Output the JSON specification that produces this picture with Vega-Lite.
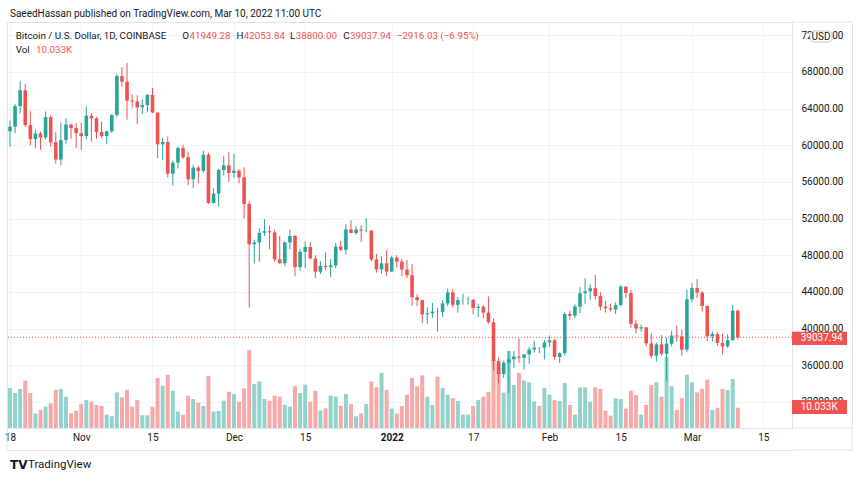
{
"$schema": "https://vega.github.io/schema/vega-lite/v6.json",
"autosize": "none",
"width": 785,
"height": 406,
"padding": {"left": 7, "top": 22, "right": 68, "bottom": 53},
"background": "white",
"config": {
  "font": "Roboto",
  "view": {"stroke": "#e0e3eb"},
  "scale": {"continuousPadding": 0},
  "axis": {"gridColor": "#f0f3fa", "domainColor": "#e0e3eb", "labelColor": "#131722", "labelFontSize": 10, "ticks": false, "labelFont": "Roboto"},
  "text": {"font": "Roboto"}
},
"datasets": {
"btc": [
{"date":"2021-10-18","open":61530,"high":62700,"low":59850,"close":62030,"volume":19800},
{"date":"2021-10-19","open":62030,"high":64500,"low":61330,"close":64280,"volume":17300},
{"date":"2021-10-20","open":64280,"high":67000,"low":63480,"close":66000,"volume":19300},
{"date":"2021-10-21","open":66000,"high":66700,"low":62000,"close":62210,"volume":23400},
{"date":"2021-10-22","open":62210,"high":63730,"low":60000,"close":60690,"volume":17300},
{"date":"2021-10-23","open":60690,"high":61750,"low":59700,"close":61300,"volume":7200},
{"date":"2021-10-24","open":61300,"high":61490,"low":59520,"close":60860,"volume":8900},
{"date":"2021-10-25","open":60860,"high":63700,"low":60650,"close":63080,"volume":10500},
{"date":"2021-10-26","open":63080,"high":63290,"low":59840,"close":60330,"volume":12200},
{"date":"2021-10-27","open":60330,"high":61470,"low":58000,"close":58450,"volume":18800},
{"date":"2021-10-28","open":58450,"high":62480,"low":57820,"close":60590,"volume":19300},
{"date":"2021-10-29","open":60590,"high":62960,"low":60190,"close":62270,"volume":15500},
{"date":"2021-10-30","open":62270,"high":62330,"low":60700,"close":61880,"volume":7200},
{"date":"2021-10-31","open":61880,"high":62420,"low":59700,"close":61320,"volume":8600},
{"date":"2021-11-01","open":61320,"high":62440,"low":59500,"close":61010,"volume":11900},
{"date":"2021-11-02","open":61010,"high":64270,"low":60670,"close":63230,"volume":13800},
{"date":"2021-11-03","open":63230,"high":63530,"low":60400,"close":62940,"volume":13000},
{"date":"2021-11-04","open":62940,"high":63110,"low":60700,"close":61440,"volume":11400},
{"date":"2021-11-05","open":61440,"high":62590,"low":60750,"close":61010,"volume":10900},
{"date":"2021-11-06","open":61010,"high":61590,"low":60120,"close":61530,"volume":6600},
{"date":"2021-11-07","open":61530,"high":63400,"low":61360,"close":63300,"volume":5800},
{"date":"2021-11-08","open":63300,"high":67800,"low":63100,"close":67550,"volume":17600},
{"date":"2021-11-09","open":67550,"high":68530,"low":66380,"close":66940,"volume":15200},
{"date":"2021-11-10","open":66940,"high":69000,"low":62800,"close":64880,"volume":18800},
{"date":"2021-11-11","open":64880,"high":65590,"low":64100,"close":64780,"volume":10500},
{"date":"2021-11-12","open":64780,"high":65460,"low":62300,"close":64140,"volume":13800},
{"date":"2021-11-13","open":64140,"high":64990,"low":63400,"close":64380,"volume":6300},
{"date":"2021-11-14","open":64380,"high":65600,"low":63600,"close":65500,"volume":6300},
{"date":"2021-11-15","open":65500,"high":66280,"low":63500,"close":63580,"volume":10500},
{"date":"2021-11-16","open":63580,"high":63580,"low":58600,"close":60100,"volume":24700},
{"date":"2021-11-17","open":60100,"high":60800,"low":58370,"close":60360,"volume":20900},
{"date":"2021-11-18","open":60360,"high":60960,"low":56500,"close":56900,"volume":26300},
{"date":"2021-11-19","open":56900,"high":58350,"low":55600,"close":58100,"volume":18400},
{"date":"2021-11-20","open":58100,"high":59860,"low":57470,"close":59700,"volume":8100},
{"date":"2021-11-21","open":59700,"high":60050,"low":58500,"close":58700,"volume":6600},
{"date":"2021-11-22","open":58700,"high":59300,"low":55650,"close":56300,"volume":16000},
{"date":"2021-11-23","open":56300,"high":57880,"low":55320,"close":57570,"volume":14300},
{"date":"2021-11-24","open":57570,"high":57800,"low":55850,"close":57200,"volume":12500},
{"date":"2021-11-25","open":57200,"high":59400,"low":57000,"close":58960,"volume":10900},
{"date":"2021-11-26","open":58960,"high":59180,"low":53600,"close":53700,"volume":25700},
{"date":"2021-11-27","open":53700,"high":55300,"low":53650,"close":54720,"volume":8100},
{"date":"2021-11-28","open":54720,"high":57440,"low":53330,"close":57300,"volume":8400},
{"date":"2021-11-29","open":57300,"high":58870,"low":56700,"close":57810,"volume":13500},
{"date":"2021-11-30","open":57810,"high":59250,"low":56000,"close":56980,"volume":17900},
{"date":"2021-12-01","open":56980,"high":59050,"low":56470,"close":57230,"volume":16800},
{"date":"2021-12-02","open":57230,"high":57400,"low":55850,"close":56500,"volume":13000},
{"date":"2021-12-03","open":56500,"high":57600,"low":52000,"close":53600,"volume":19600},
{"date":"2021-12-04","open":53600,"high":53860,"low":42300,"close":49200,"volume":38500},
{"date":"2021-12-05","open":49200,"high":49700,"low":47100,"close":49400,"volume":21700},
{"date":"2021-12-06","open":49400,"high":50950,"low":47300,"close":50450,"volume":23000},
{"date":"2021-12-07","open":50450,"high":51950,"low":50100,"close":50620,"volume":14300},
{"date":"2021-12-08","open":50620,"high":51250,"low":48650,"close":50500,"volume":13500},
{"date":"2021-12-09","open":50500,"high":50800,"low":47300,"close":47550,"volume":16000},
{"date":"2021-12-10","open":47550,"high":50100,"low":47080,"close":47140,"volume":15500},
{"date":"2021-12-11","open":47140,"high":49500,"low":46850,"close":49400,"volume":11500},
{"date":"2021-12-12","open":49400,"high":50800,"low":48650,"close":50100,"volume":10500},
{"date":"2021-12-13","open":50100,"high":50200,"low":45700,"close":46700,"volume":20600},
{"date":"2021-12-14","open":46700,"high":48700,"low":46300,"close":48370,"volume":17300},
{"date":"2021-12-15","open":48370,"high":49500,"low":46600,"close":48900,"volume":21400},
{"date":"2021-12-16","open":48900,"high":49450,"low":47550,"close":47650,"volume":13000},
{"date":"2021-12-17","open":47650,"high":47990,"low":45500,"close":46200,"volume":18400},
{"date":"2021-12-18","open":46200,"high":47350,"low":45960,"close":46850,"volume":8600},
{"date":"2021-12-19","open":46850,"high":48320,"low":46430,"close":46700,"volume":9700},
{"date":"2021-12-20","open":46700,"high":47550,"low":45600,"close":46900,"volume":16000},
{"date":"2021-12-21","open":46900,"high":49350,"low":46600,"close":48950,"volume":15500},
{"date":"2021-12-22","open":48950,"high":49580,"low":48450,"close":48600,"volume":11000},
{"date":"2021-12-23","open":48600,"high":51380,"low":48050,"close":50820,"volume":16800},
{"date":"2021-12-24","open":50820,"high":51820,"low":50440,"close":50430,"volume":11900},
{"date":"2021-12-25","open":50430,"high":51180,"low":50240,"close":50800,"volume":5800},
{"date":"2021-12-26","open":50800,"high":51280,"low":49450,"close":50680,"volume":7200},
{"date":"2021-12-27","open":50680,"high":52060,"low":50500,"close":50700,"volume":11900},
{"date":"2021-12-28","open":50700,"high":50700,"low":47350,"close":47540,"volume":23000},
{"date":"2021-12-29","open":47540,"high":48140,"low":46100,"close":46460,"volume":20100},
{"date":"2021-12-30","open":46460,"high":47900,"low":46000,"close":47120,"volume":27200},
{"date":"2021-12-31","open":47120,"high":48550,"low":45700,"close":46210,"volume":18900},
{"date":"2022-01-01","open":46210,"high":47950,"low":46200,"close":47740,"volume":9600},
{"date":"2022-01-02","open":47740,"high":47990,"low":46650,"close":47310,"volume":7200},
{"date":"2022-01-03","open":47310,"high":47560,"low":45700,"close":46450,"volume":10900},
{"date":"2022-01-04","open":46450,"high":47500,"low":45500,"close":45830,"volume":16500},
{"date":"2022-01-05","open":45830,"high":47070,"low":42500,"close":43430,"volume":24700},
{"date":"2022-01-06","open":43430,"high":43750,"low":42430,"close":43100,"volume":20600},
{"date":"2022-01-07","open":43100,"high":43150,"low":40610,"close":41550,"volume":26000},
{"date":"2022-01-08","open":41550,"high":42300,"low":40500,"close":41670,"volume":15500},
{"date":"2022-01-09","open":41670,"high":42790,"low":41200,"close":41850,"volume":11400},
{"date":"2022-01-10","open":41850,"high":42250,"low":39650,"close":41820,"volume":25400},
{"date":"2022-01-11","open":41820,"high":43100,"low":41270,"close":42740,"volume":19800},
{"date":"2022-01-12","open":42740,"high":44350,"low":42450,"close":43950,"volume":16500},
{"date":"2022-01-13","open":43950,"high":44300,"low":42300,"close":42590,"volume":14700},
{"date":"2022-01-14","open":42590,"high":43440,"low":41730,"close":43100,"volume":13300},
{"date":"2022-01-15","open":43100,"high":43800,"low":42600,"close":43120,"volume":6600},
{"date":"2022-01-16","open":43120,"high":43480,"low":42600,"close":43150,"volume":6600},
{"date":"2022-01-17","open":43150,"high":43180,"low":41550,"close":42250,"volume":10900},
{"date":"2022-01-18","open":42250,"high":42690,"low":41250,"close":42380,"volume":13800},
{"date":"2022-01-19","open":42380,"high":42570,"low":41100,"close":41740,"volume":15500},
{"date":"2022-01-20","open":41740,"high":43500,"low":40550,"close":40680,"volume":17900},
{"date":"2022-01-21","open":40680,"high":41100,"low":35440,"close":36460,"volume":34000},
{"date":"2022-01-22","open":36460,"high":36840,"low":34010,"close":35030,"volume":31000},
{"date":"2022-01-23","open":35030,"high":36500,"low":34600,"close":36280,"volume":17500},
{"date":"2022-01-24","open":36280,"high":37550,"low":32920,"close":36650,"volume":38000},
{"date":"2022-01-25","open":36650,"high":37550,"low":35700,"close":36950,"volume":21300},
{"date":"2022-01-26","open":36950,"high":38920,"low":36250,"close":36820,"volume":27200},
{"date":"2022-01-27","open":36820,"high":37230,"low":35500,"close":37170,"volume":23500},
{"date":"2022-01-28","open":37170,"high":38000,"low":36160,"close":37720,"volume":22500},
{"date":"2022-01-29","open":37720,"high":38700,"low":37380,"close":37910,"volume":13100},
{"date":"2022-01-30","open":37910,"high":38000,"low":37300,"close":37900,"volume":11000},
{"date":"2022-01-31","open":37900,"high":38740,"low":36630,"close":38480,"volume":19800},
{"date":"2022-02-01","open":38480,"high":39230,"low":38000,"close":38720,"volume":16500},
{"date":"2022-02-02","open":38720,"high":38860,"low":36600,"close":36900,"volume":13800},
{"date":"2022-02-03","open":36900,"high":37400,"low":36250,"close":37320,"volume":13300},
{"date":"2022-02-04","open":37320,"high":41780,"low":37050,"close":41590,"volume":22200},
{"date":"2022-02-05","open":41590,"high":41950,"low":40970,"close":41400,"volume":11400},
{"date":"2022-02-06","open":41400,"high":42650,"low":41150,"close":42400,"volume":6600},
{"date":"2022-02-07","open":42400,"high":44520,"low":41690,"close":43860,"volume":20100},
{"date":"2022-02-08","open":43860,"high":45500,"low":42700,"close":44070,"volume":20100},
{"date":"2022-02-09","open":44070,"high":44800,"low":43150,"close":44400,"volume":13000},
{"date":"2022-02-10","open":44400,"high":45850,"low":43190,"close":43550,"volume":20100},
{"date":"2022-02-11","open":43550,"high":43950,"low":42000,"close":42390,"volume":19300},
{"date":"2022-02-12","open":42390,"high":43020,"low":41740,"close":42220,"volume":8600},
{"date":"2022-02-13","open":42220,"high":42740,"low":41870,"close":42080,"volume":6100},
{"date":"2022-02-14","open":42080,"high":42880,"low":41570,"close":42560,"volume":14700},
{"date":"2022-02-15","open":42560,"high":44770,"low":42430,"close":44570,"volume":14300},
{"date":"2022-02-16","open":44570,"high":44580,"low":43330,"close":43880,"volume":9600},
{"date":"2022-02-17","open":43880,"high":44200,"low":40090,"close":40520,"volume":18400},
{"date":"2022-02-18","open":40520,"high":40960,"low":39450,"close":40000,"volume":16300},
{"date":"2022-02-19","open":40000,"high":40450,"low":39650,"close":40130,"volume":6600},
{"date":"2022-02-20","open":40130,"high":40150,"low":38050,"close":38380,"volume":11400},
{"date":"2022-02-21","open":38380,"high":39480,"low":36800,"close":37030,"volume":21200},
{"date":"2022-02-22","open":37030,"high":38450,"low":36400,"close":38270,"volume":22600},
{"date":"2022-02-23","open":38270,"high":39280,"low":37030,"close":37250,"volume":15500},
{"date":"2022-02-24","open":37250,"high":39000,"low":34300,"close":38350,"volume":35000},
{"date":"2022-02-25","open":38350,"high":39750,"low":38050,"close":39240,"volume":20600},
{"date":"2022-02-26","open":39240,"high":40300,"low":38600,"close":39140,"volume":8900},
{"date":"2022-02-27","open":39140,"high":39860,"low":37040,"close":37700,"volume":14700},
{"date":"2022-02-28","open":37700,"high":44250,"low":37460,"close":43190,"volume":26400},
{"date":"2022-03-01","open":43190,"high":44960,"low":42850,"close":44420,"volume":22600},
{"date":"2022-03-02","open":44420,"high":45400,"low":43340,"close":43920,"volume":17600},
{"date":"2022-03-03","open":43920,"high":44100,"low":41850,"close":42460,"volume":19300},
{"date":"2022-03-04","open":42460,"high":42520,"low":38640,"close":39150,"volume":23900},
{"date":"2022-03-05","open":39150,"high":39700,"low":38600,"close":39400,"volume":8900},
{"date":"2022-03-06","open":39400,"high":39650,"low":38100,"close":38420,"volume":10000},
{"date":"2022-03-07","open":38420,"high":39450,"low":37200,"close":38060,"volume":19300},
{"date":"2022-03-08","open":38060,"high":39380,"low":37880,"close":38740,"volume":18800},
{"date":"2022-03-09","open":38740,"high":42590,"low":38660,"close":41949.28,"volume":24200},
{"date":"2022-03-10","open":41949.28,"high":42053.84,"low":38800,"close":39037.94,"volume":10033}
]
},
"data": {"name": "btc"},
"resolve": {"scale": {"y": "independent"}},
"layer": [
  {
    "mark": {"type": "bar", "size": 4},
    "encoding": {
      "x": {"field": "date", "type": "temporal"},
      "y": {"field": "volume", "type": "quantitative", "scale": {"domain": [0, 200564], "nice": false}, "axis": null},
      "color": {"condition": {"test": "datum.close >= datum.open", "value": "#92d2cc"}, "value": "#f7a9a7"}
    }
  },
  {
    "layer": [
      {
        "mark": {"type": "rule", "strokeWidth": 1},
        "encoding": {
          "x": {"field": "date", "type": "temporal",
            "scale": {"type": "utc", "nice": false, "padding": 0, "domain": [{"year":2021,"month":10,"date":17,"hours":9,"minutes":58,"utc":true}, {"year":2022,"month":3,"date":20,"hours":15,"minutes":32,"utc":true}]},
            "axis": {"title": null, "offset": 22, "labelPadding": -18, "labelOverlap": false, "labelBound": false, "labelFlush": false, "grid": true,
              "values": [{"year":2021,"month":10,"date":18,"utc":true},{"year":2021,"month":11,"date":1,"utc":true},{"year":2021,"month":11,"date":15,"utc":true},{"year":2021,"month":12,"date":1,"utc":true},{"year":2021,"month":12,"date":15,"utc":true},{"year":2022,"month":1,"date":1,"utc":true},{"year":2022,"month":1,"date":17,"utc":true},{"year":2022,"month":2,"date":1,"utc":true},{"year":2022,"month":2,"date":15,"utc":true},{"year":2022,"month":3,"date":1,"utc":true},{"year":2022,"month":3,"date":15,"utc":true}],
              "labelExpr": "utcdate(datum.value) == 1 ? (utcmonth(datum.value) == 0 ? utcFormat(datum.value, '%Y') : utcFormat(datum.value, '%b')) : '' + utcdate(datum.value)",
              "labelFontWeight": {"condition": {"test": "utcdate(datum.value) == 1 && utcmonth(datum.value) == 0", "value": "bold"}, "value": "normal"}
            }
          },
          "y": {"field": "low", "type": "quantitative",
            "scale": {"domain": [29146, 73457], "nice": false, "zero": false},
            "axis": {"title": null, "orient": "right", "offset": 60, "labelPadding": -51, "labelAlign": "left", "format": ".2f", "labelOverlap": false, "labelBound": false, "labelFlush": false, "grid": true,
              "values": [32000, 36000, 40000, 44000, 48000, 52000, 56000, 60000, 64000, 68000, 72000]}
          },
          "y2": {"field": "high"},
          "color": {"condition": {"test": "datum.close >= datum.open", "value": "#26a69a"}, "value": "#ef5350"}
        }
      },
      {
        "mark": {"type": "bar", "size": 3.6},
        "encoding": {
          "x": {"field": "date", "type": "temporal"},
          "y": {"field": "open", "type": "quantitative"},
          "y2": {"field": "close"},
          "color": {"condition": {"test": "datum.close >= datum.open", "value": "#26a69a"}, "value": "#ef5350"}
        }
      },
      {
        "data": {"values": [{}]},
        "mark": {"type": "rule", "color": "#ef5350", "strokeDash": [1, 2], "strokeWidth": 1},
        "encoding": {"y": {"datum": 39037.94, "type": "quantitative"}}
      },
      {
        "data": {"values": [{}]},
        "mark": {"type": "text", "align": "left", "baseline": "middle", "fontSize": 10, "color": "#131722"},
        "encoding": {"x": {"datum": {"year":2021,"month":10,"date":18,"hours":0,"minutes":6,"utc":true}, "type": "temporal"}, "y": {"datum": 74363, "type": "quantitative"}, "text": {"value": "SaeedHassan published on TradingView.com, Mar 10, 2022 11:00 UTC"}}
      },
      {
        "data": {"values": [{}]},
        "mark": {"type": "text", "align": "left", "baseline": "middle", "fontSize": 9.8, "color": "#131722"},
        "encoding": {"x": {"datum": {"year":2021,"month":10,"date":19,"hours":2,"minutes":58,"utc":true}, "type": "temporal"}, "y": {"datum": 71929, "type": "quantitative"}, "text": {"value": "Bitcoin / U.S. Dollar, 1D, COINBASE"}}
      },
      {
        "data": {"values": [{}]},
        "mark": {"type": "text", "align": "left", "baseline": "middle", "fontSize": 9.8, "color": "#131722"},
        "encoding": {"x": {"datum": {"year":2021,"month":11,"date":20,"hours":20,"minutes":33,"utc":true}, "type": "temporal"}, "y": {"datum": 71929, "type": "quantitative"}, "text": {"value": "O"}}
      },
      {
        "data": {"values": [{}]},
        "mark": {"type": "text", "align": "left", "baseline": "middle", "fontSize": 9.8, "color": "#ef5350"},
        "encoding": {"x": {"datum": {"year":2021,"month":11,"date":22,"hours":6,"minutes":30,"utc":true}, "type": "temporal"}, "y": {"datum": 71929, "type": "quantitative"}, "text": {"value": "41949.28"}}
      },
      {
        "data": {"values": [{}]},
        "mark": {"type": "text", "align": "left", "baseline": "middle", "fontSize": 9.8, "color": "#131722"},
        "encoding": {"x": {"datum": {"year":2021,"month":12,"date":1,"hours":12,"minutes":0,"utc":true}, "type": "temporal"}, "y": {"datum": 71929, "type": "quantitative"}, "text": {"value": "H"}}
      },
      {
        "data": {"values": [{}]},
        "mark": {"type": "text", "align": "left", "baseline": "middle", "fontSize": 9.8, "color": "#ef5350"},
        "encoding": {"x": {"datum": {"year":2021,"month":12,"date":2,"hours":22,"minutes":33,"utc":true}, "type": "temporal"}, "y": {"datum": 71929, "type": "quantitative"}, "text": {"value": "42053.84"}}
      },
      {
        "data": {"values": [{}]},
        "mark": {"type": "text", "align": "left", "baseline": "middle", "fontSize": 9.8, "color": "#131722"},
        "encoding": {"x": {"datum": {"year":2021,"month":12,"date":12,"hours":0,"minutes":24,"utc":true}, "type": "temporal"}, "y": {"datum": 71929, "type": "quantitative"}, "text": {"value": "L"}}
      },
      {
        "data": {"values": [{}]},
        "mark": {"type": "text", "align": "left", "baseline": "middle", "fontSize": 9.8, "color": "#ef5350"},
        "encoding": {"x": {"datum": {"year":2021,"month":12,"date":13,"hours":3,"minutes":46,"utc":true}, "type": "temporal"}, "y": {"datum": 71929, "type": "quantitative"}, "text": {"value": "38800.00"}}
      },
      {
        "data": {"values": [{}]},
        "mark": {"type": "text", "align": "left", "baseline": "middle", "fontSize": 9.8, "color": "#131722"},
        "encoding": {"x": {"datum": {"year":2021,"month":12,"date":22,"hours":11,"minutes":43,"utc":true}, "type": "temporal"}, "y": {"datum": 71929, "type": "quantitative"}, "text": {"value": "C"}}
      },
      {
        "data": {"values": [{}]},
        "mark": {"type": "text", "align": "left", "baseline": "middle", "fontSize": 9.8, "color": "#ef5350"},
        "encoding": {"x": {"datum": {"year":2021,"month":12,"date":23,"hours":19,"minutes":21,"utc":true}, "type": "temporal"}, "y": {"datum": 71929, "type": "quantitative"}, "text": {"value": "39037.94"}}
      },
      {
        "data": {"values": [{}]},
        "mark": {"type": "text", "align": "left", "baseline": "middle", "fontSize": 9.8, "color": "#ef5350"},
        "encoding": {"x": {"datum": {"year":2022,"month":1,"date":1,"hours":23,"minutes":31,"utc":true}, "type": "temporal"}, "y": {"datum": 71929, "type": "quantitative"}, "text": {"value": "−2916.03 (−6.95%)"}}
      },
      {
        "data": {"values": [{}]},
        "mark": {"type": "text", "align": "left", "baseline": "middle", "fontSize": 9.8, "color": "#131722"},
        "encoding": {"x": {"datum": {"year":2021,"month":10,"date":19,"hours":2,"minutes":58,"utc":true}, "type": "temporal"}, "y": {"datum": 70368, "type": "quantitative"}, "text": {"value": "Vol"}}
      },
      {
        "data": {"values": [{}]},
        "mark": {"type": "text", "align": "left", "baseline": "middle", "fontSize": 9.8, "color": "#ef5350"},
        "encoding": {"x": {"datum": {"year":2021,"month":10,"date":23,"hours":2,"minutes":41,"utc":true}, "type": "temporal"}, "y": {"datum": 70368, "type": "quantitative"}, "text": {"value": "10.033K"}}
      },
      {
        "data": {"values": [{}]},
        "mark": {"type": "text", "align": "left", "baseline": "middle", "fontSize": 12, "fontWeight": "bold", "font": "DejaVu Sans", "color": "#131722"},
        "encoding": {"x": {"datum": {"year":2021,"month":10,"date":18,"hours":0,"minutes":6,"utc":true}, "type": "temporal"}, "y": {"datum": 25108, "type": "quantitative"}, "text": {"value": "TV"}}
      },
      {
        "data": {"values": [{}]},
        "mark": {"type": "text", "align": "left", "baseline": "middle", "fontSize": 11.5, "color": "#131722"},
        "encoding": {"x": {"datum": {"year":2021,"month":10,"date":21,"hours":12,"minutes":59,"utc":true}, "type": "temporal"}, "y": {"datum": 25108, "type": "quantitative"}, "text": {"value": "TradingView"}}
      },
      {
        "data": {"values": [{}]},
        "mark": {"type": "rect", "color": "#ef5350"},
        "encoding": {"x": {"datum": {"year":2022,"month":3,"date":20,"hours":15,"minutes":36,"utc":true}, "type": "temporal"}, "x2": {"datum": {"year":2022,"month":3,"date":31,"hours":10,"minutes":48,"utc":true}}, "y": {"datum": 39656, "type": "quantitative"}, "y2": {"datum": 38205}}
      },
      {
        "data": {"values": [{}]},
        "mark": {"type": "text", "align": "left", "baseline": "middle", "fontSize": 10, "color": "white"},
        "encoding": {"x": {"datum": {"year":2022,"month":3,"date":22,"hours":8,"minutes":38,"utc":true}, "type": "temporal"}, "y": {"datum": 38930, "type": "quantitative"}, "text": {"value": "39037.94"}}
      },
      {
        "data": {"values": [{}]},
        "mark": {"type": "rect", "color": "#ef5350"},
        "encoding": {"x": {"datum": {"year":2022,"month":3,"date":20,"hours":15,"minutes":36,"utc":true}, "type": "temporal"}, "x2": {"datum": {"year":2022,"month":3,"date":31,"hours":10,"minutes":48,"utc":true}}, "y": {"datum": 32202, "type": "quantitative"}, "y2": {"datum": 30674}}
      },
      {
        "data": {"values": [{}]},
        "mark": {"type": "text", "align": "left", "baseline": "middle", "fontSize": 10, "color": "white"},
        "encoding": {"x": {"datum": {"year":2022,"month":3,"date":22,"hours":8,"minutes":38,"utc":true}, "type": "temporal"}, "y": {"datum": 31438, "type": "quantitative"}, "text": {"value": "10.033K"}}
      },
      {
        "data": {"values": [{}]},
        "mark": {"type": "rect", "fill": "white", "stroke": "#b2b5be", "strokeWidth": 0.8, "cornerRadius": 4},
        "encoding": {"x": {"datum": {"year":2022,"month":3,"date":24,"hours":4,"minutes":28,"utc":true}, "type": "temporal"}, "x2": {"datum": {"year":2022,"month":3,"date":28,"hours":12,"minutes":14,"utc":true}}, "y": {"datum": 72475, "type": "quantitative"}, "y2": {"datum": 71274}}
      },
      {
        "data": {"values": [{}]},
        "mark": {"type": "text", "align": "center", "baseline": "middle", "fontSize": 10, "color": "#131722"},
        "encoding": {"x": {"datum": {"year":2022,"month":3,"date":26,"hours":8,"minutes":24,"utc":true}, "type": "temporal"}, "y": {"datum": 71874, "type": "quantitative"}, "text": {"value": "USD"}}
      },
      {
        "data": {"values": [{}]},
        "mark": {"type": "rule", "color": "#e0e3eb"},
        "encoding": {"x": {"datum": {"year":2022,"month":3,"date":20,"hours":15,"minutes":32,"utc":true}, "type": "temporal"}, "x2": {"datum": {"year":2022,"month":4,"date":1,"hours":10,"minutes":34,"utc":true}}, "y": {"datum": 26745, "type": "quantitative"}}
      },
      {
        "data": {"values": [{}]},
        "mark": {"type": "rule", "color": "#e0e3eb"},
        "encoding": {"x": {"datum": {"year":2022,"month":3,"date":20,"hours":15,"minutes":32,"utc":true}, "type": "temporal"}, "x2": {"datum": {"year":2022,"month":4,"date":1,"hours":10,"minutes":34,"utc":true}}, "y": {"datum": 29146, "type": "quantitative"}}
      },
      {
        "data": {"values": [{}]},
        "mark": {"type": "rule", "color": "#e0e3eb"},
        "encoding": {"x": {"datum": {"year":2022,"month":3,"date":20,"hours":15,"minutes":32,"utc":true}, "type": "temporal"}, "x2": {"datum": {"year":2022,"month":4,"date":1,"hours":10,"minutes":34,"utc":true}}, "y": {"datum": 73457, "type": "quantitative"}}
      },
      {
        "data": {"values": [{}]},
        "mark": {"type": "rule", "color": "#e0e3eb"},
        "encoding": {"x": {"datum": {"year":2021,"month":10,"date":17,"hours":9,"minutes":58,"utc":true}, "type": "temporal"}, "y": {"datum": 29146, "type": "quantitative"}, "y2": {"datum": 26745}}
      },
      {
        "data": {"values": [{}]},
        "mark": {"type": "rule", "color": "#e0e3eb"},
        "encoding": {"x": {"datum": {"year":2022,"month":4,"date":1,"hours":10,"minutes":34,"utc":true}, "type": "temporal"}, "y": {"datum": 29146, "type": "quantitative"}, "y2": {"datum": 26745}}
      }
    ]
  }
]
}
